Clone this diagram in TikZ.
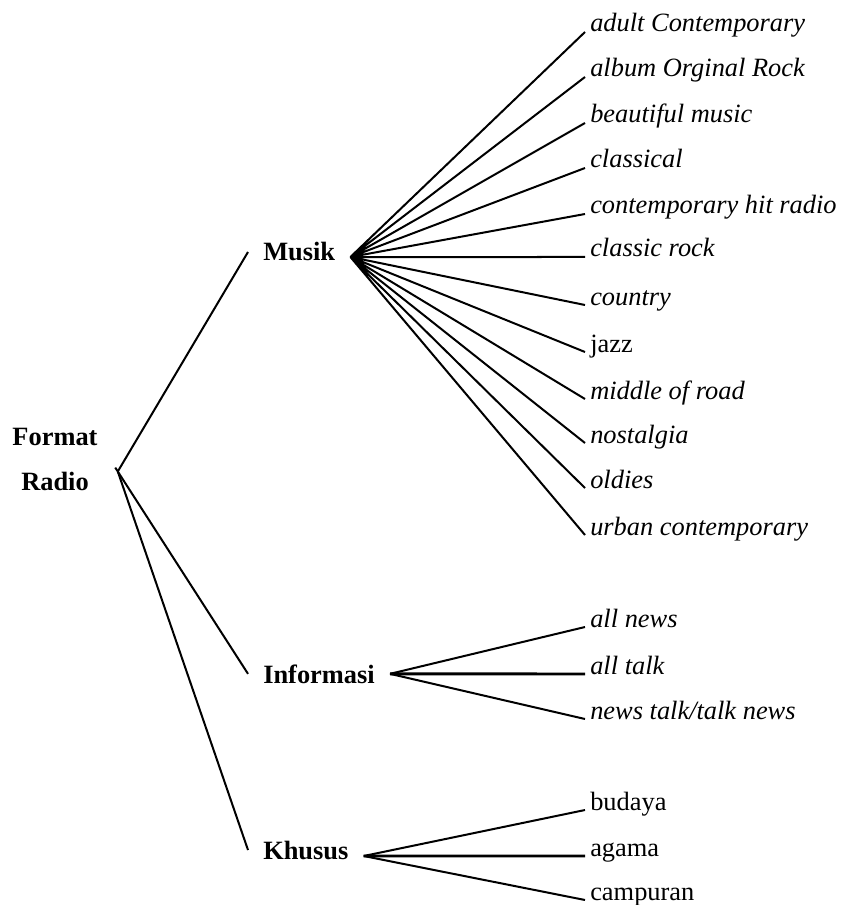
\documentclass[tikz,border=0pt]{standalone}
\usepackage{fontspec}
\setmainfont{Liberation Serif}
\begin{document}
\begin{tikzpicture}[
  x=0.75pt, y=-0.75pt,
  rootnode/.style={align=center, inner sep=3pt, font=\fontsize{19.8}{33.75}\selectfont\bfseries},
  cat/.style={anchor=base west, inner xsep=11.25pt, inner ysep=0pt, font=\fontsize{19.8}{24}\selectfont\bfseries},
  leaf/.style={anchor=base west, inner xsep=3.75pt, inner ysep=0pt, font=\fontsize{19.8}{24}\selectfont\itshape},
  plainleaf/.style={leaf, font=\fontsize{19.8}{24}\selectfont\upshape},
  branch/.style={line width=1.5pt},
  flat/.style={line width=2.2pt}
]
\useasboundingbox (0,0) rectangle (841,905);

\node[rootnode] (radio) at (55,459.5) {Format\\Radio};

% Categories
\node[cat] (musik) at (248,261) {Musik};
\node[cat] (informasi) at (248,683) {Informasi};
\node[cat] (khusus) at (248,859) {Khusus};

% Leaves
\node[leaf] (adult) at (585,32) {adult Contemporary};
\node[leaf] (album) at (585,77) {album Orginal Rock};
\node[leaf] (beautiful) at (585,123) {beautiful music};
\node[leaf] (classical) at (585,168) {classical};
\node[leaf] (chr) at (585,214) {contemporary hit radio};
\node[leaf] (classic) at (585,257) {classic rock};
\node[leaf] (country) at (585,305) {country};
\node[plainleaf] (jazz) at (585,352) {jazz};
\node[leaf] (mor) at (585,399) {middle of road};
\node[leaf] (nostalgia) at (585,443) {nostalgia};
\node[leaf] (oldies) at (585,488) {oldies};
\node[leaf] (urban) at (585,535) {urban contemporary};

\node[leaf] (allnews) at (585,627) {all news};
\node[leaf] (alltalk) at (585,674) {all talk};
\node[leaf] (newstalk) at (585,719) {news talk/talk news};

\node[plainleaf] (budaya) at (585,810) {budaya};
\node[plainleaf] (agama) at (585,856) {agama};
\node[plainleaf] (campuran) at (585,900) {campuran};

% Branches
\coordinate (rhub) at ([xshift=12pt,yshift=-9pt]radio.east);
\coordinate (mhub) at ([yshift=-3.75pt]musik.east);
\coordinate (khub) at ([yshift=-4.5pt]khusus.east);

\draw[branch] (rhub) -- (musik.west);
\draw[branch, shorten <=-3.5pt] (rhub) -- (informasi.west);
\draw[branch] (rhub) -- (khusus.west);

\draw[branch] (mhub) -- (adult.base west) (mhub) -- (album.base west)
  (mhub) -- (beautiful.base west) (mhub) -- (classical.base west)
  (mhub) -- (chr.base west) (mhub) -- (classic.base west)
  (mhub) -- (country.base west) (mhub) -- (jazz.base west)
  (mhub) -- (mor.base west) (mhub) -- (nostalgia.base west)
  (mhub) -- (oldies.base west) (mhub) -- (urban.base west);

\draw[branch] (informasi.east) -- (allnews.base west) (informasi.east) -- (newstalk.base west);
\draw[flat] (informasi.east) -- (alltalk.base west);

\draw[branch] (khub) -- (budaya.base west) (khub) -- (campuran.base west);
\draw[flat] (khub) -- (agama.base west);
\end{tikzpicture}
\end{document}
